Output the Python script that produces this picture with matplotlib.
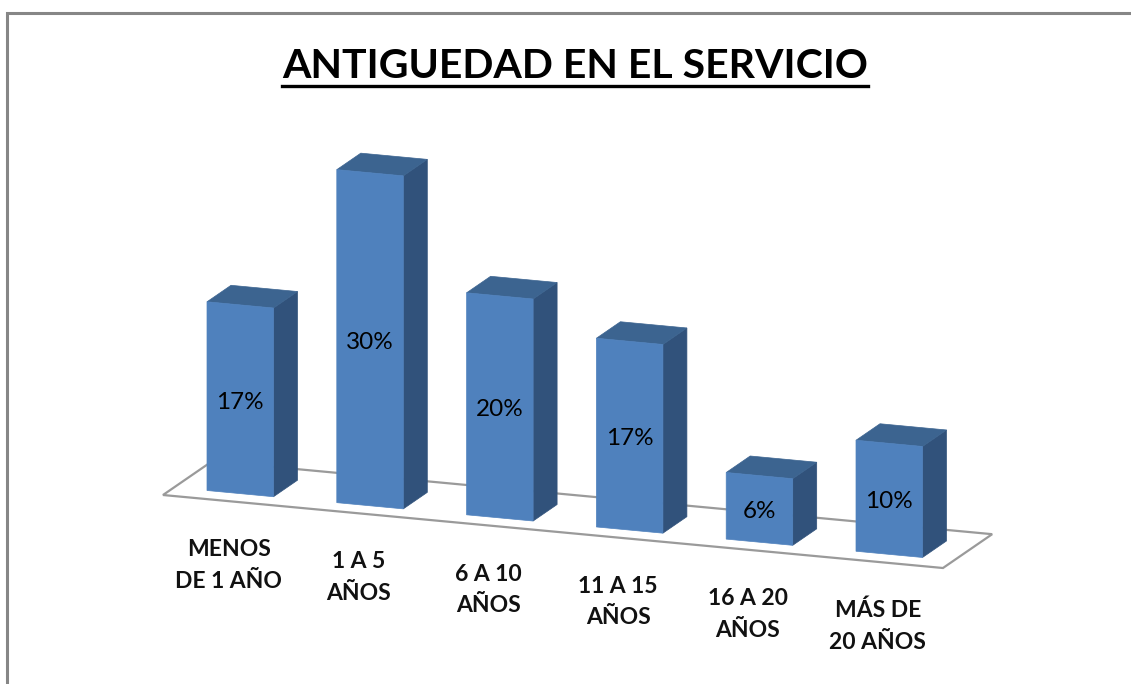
import matplotlib
matplotlib.use("Agg")
import matplotlib.pyplot as plt
from matplotlib.patches import Polygon

categories = ["MENOS\nDE 1 AÑO", "1 A 5\nAÑOS", "6 A 10\nAÑOS", "11 A 15\nAÑOS", "16 A 20\nAÑOS", "MÁS DE\n20 AÑOS"]
values = [17, 30, 20, 17, 6, 10]
value_labels = ["17%", "30%", "20%", "17%", "6%", "10%"]
title = "ANTIGUEDAD EN EL SERVICIO"

FRONT = "#4F81BD"
SIDE = "#31527B"
TOP = "#3C6490"
FLOOR = "#9A9A9A"
FRAME = "#868686"

# oblique projection: category position, depth 0-1, value -> pixel
STEP_X = 129.8
SLOPE = 0.0936
DEPTH_X = 24
DEPTH_Y = -16.5
PX_PER_PCT = 11.1
BAR_W = 66.5 / STEP_X
ORIGIN_X = 207
ORIGIN_Y = 490.5


def project(pos, depth=0, value=0):
    x = ORIGIN_X + pos * STEP_X + depth * DEPTH_X
    y = ORIGIN_Y + pos * STEP_X * SLOPE + depth * DEPTH_Y - value * PX_PER_PCT
    return x, y


fig = plt.figure(figsize=(11.31, 6.84), dpi=100)
ax = fig.add_axes([0, 0, 1, 1])
ax.set_xlim(0, 1131)
ax.set_ylim(684, 0)
ax.axis("off")

# frame, only left and top are visible
ax.plot([7, 7, 1131], [684, 13, 13], color=FRAME, lw=2.2, solid_joinstyle="miter")

# title
ax.text(575.5, 67, title, ha="center", va="center", fontsize=29.5, fontweight="bold", family="Lato", color="black")
ax.plot([282, 868], [85.5, 85.5], color="black", lw=2.4)

# floor
floor_start = -0.254
floor_end = len(values) - 0.245
floor = [project(floor_start, -0.46), project(floor_end, -0.46), project(floor_end, 1.59), project(floor_start, 1.59)]
ax.add_patch(Polygon(floor, closed=True, facecolor="white", edgecolor=FLOOR, lw=1.6))

# bars
for i, v in enumerate(values):
    front = [project(i, 0, 0), project(i + BAR_W, 0, 0), project(i + BAR_W, 0, v), project(i, 0, v)]
    side = [project(i + BAR_W, 0, 0), project(i + BAR_W, 1, 0), project(i + BAR_W, 1, v), project(i + BAR_W, 0, v)]
    top = [project(i, 0, v), project(i + BAR_W, 0, v), project(i + BAR_W, 1, v), project(i, 1, v)]
    ax.add_patch(Polygon(side, closed=True, facecolor=SIDE, edgecolor=SIDE, lw=0.5))
    ax.add_patch(Polygon(top, closed=True, facecolor=TOP, edgecolor=TOP, lw=0.5))
    ax.add_patch(Polygon(front, closed=True, facecolor=FRONT, edgecolor=FRONT, lw=0.5))

    lx, ly = project(i + BAR_W / 2, 0, v / 2)
    ax.text(lx, ly + 3, value_labels[i], ha="center", va="center", fontsize=17.5, family="Lato", color="black")

    cx, cy = project(i + BAR_W / 2, 0, 0)
    ax.text(cx - 11.5, cy + 72, categories[i], ha="center", va="center", fontsize=16.5, fontweight="bold",
            family="Lato", color="#111111", linespacing=1.63)

fig.savefig("out.png", dpi=100)
